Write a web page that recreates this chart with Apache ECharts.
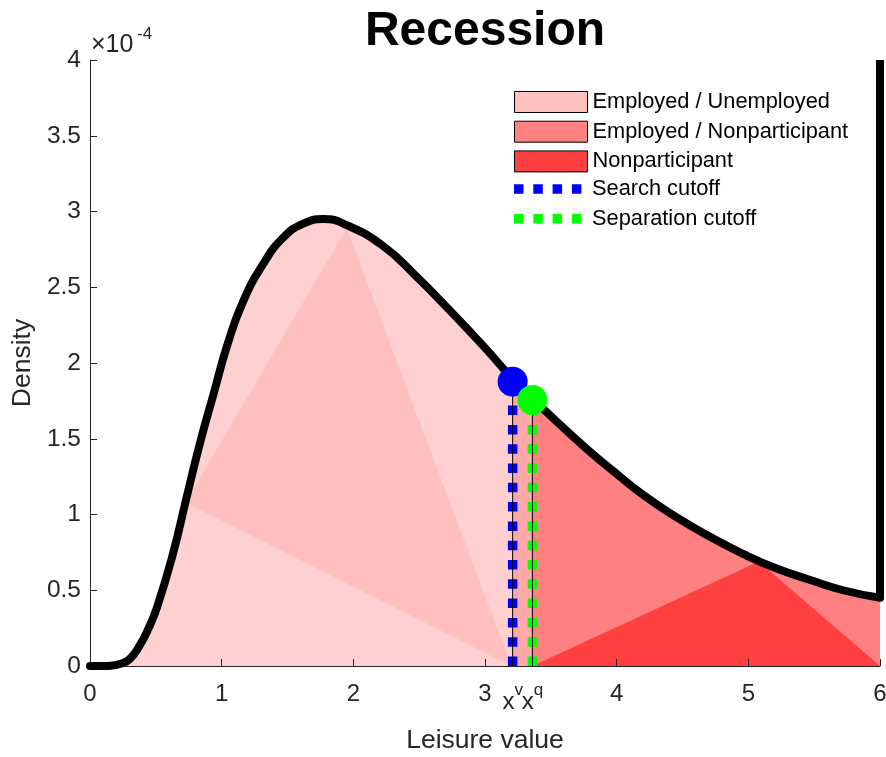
<!DOCTYPE html>
<html><head><meta charset="utf-8">
<script src="https://cdn.jsdelivr.net/npm/echarts@6/dist/echarts.min.js"></script>
<style>html,body{margin:0;padding:0;background:#fff}#c{width:886px;height:757px}</style>
</head><body><div id="c"></div>
<script>
// Density curve (values in units of 1e-4)
const curveX = [0, 0.1, 0.16, 0.22, 0.3, 0.38, 0.44, 0.51, 0.63, 0.73, 0.835, 0.94, 1.04, 1.16, 1.32, 1.47, 1.62, 1.77, 1.95, 2.23, 2.48, 2.73, 2.99, 3.21, 3.36, 3.75, 3.97, 4.20, 4.45, 4.71, 4.96, 5.21, 5.47, 5.72, 6.0];
const curveY = [0, 0, 0.002, 0.012, 0.045, 0.14, 0.24, 0.39, 0.74, 1.10, 1.47, 1.80, 2.11, 2.40, 2.66, 2.83, 2.92, 2.95, 2.91, 2.77, 2.57, 2.35, 2.11, 1.895, 1.765, 1.45, 1.29, 1.13, 0.985, 0.853, 0.74, 0.645, 0.568, 0.50, 0.45];
const rightEdge = [[6, 0.45], [6, 4]];
const searchCutoff = [3.21, 1.877];
const separationCutoff = [3.36, 1.756];
// triangles as x1,y1,x2,y2,x3,y3
const pinkTriangle = [0.725, 1.08, 1.95, 2.89, 3.2, 0];
const nonpartTriangle = [3.36, 0, 5.08, 0.69, 6, 0];
const xTickValues = [0, 1, 2, 3, 4, 5, 6];
const xLabelValues = [0, 1, 2, 3, 3.21, 3.36, 4, 5, 6];
const cutoffNames = [[3.21, 'v'], [3.36, 'q']];
const legendPatches = ['Employed / Unemployed', 'Employed / Nonparticipant', 'Nonparticipant'];
const legendLines = ['Search cutoff', 'Separation cutoff'];

const curve = curveX.map((x, i) => [x, curveY[i]]);
const leftFill = curve.filter(p => p[0] <= searchCutoff[0] + 1e-9);
const rightFill = curve.filter(p => p[0] >= separationCutoff[0] - 1e-9);
const midFill = curve.filter(p => p[0] >= searchCutoff[0] - 1e-9 && p[0] <= separationCutoff[0] + 1e-9);

const FONT = '"Liberation Sans", Arial, Helvetica, sans-serif';
const TXT = '#262626';
const SMOOTH = 0.5;
const squaresPath = 'path://M0,0h9.5v9.5h-9.5z M19.3,0h9.5v9.5h-9.5z M38.6,0h9.5v9.5h-9.5z M57.9,0h9.5v9.5h-9.5z M73,0';

function polyItem(color) {
  return function (params, api) {
    const pts = [];
    for (let i = 0; i < 3; i++) pts.push(api.coord([api.value(2 * i), api.value(2 * i + 1)]));
    return { type: 'polygon', shape: { points: pts }, style: { fill: color } };
  };
}

const chart = echarts.init(document.getElementById('c'), null, { renderer: 'canvas' });
const option = {
  animation: false,
  backgroundColor: '#fff',
  textStyle: { fontFamily: FONT },
  title: {
    text: 'Recession', left: 485, top: 8, padding: 0, textAlign: 'center',
    textStyle: { fontSize: 48, fontWeight: 'bold', color: '#000', fontFamily: FONT }
  },
  graphic: [
    { type: 'text', x: 91, y: 33, silent: true,
      style: { text: '×10', font: '25px ' + FONT, fill: TXT, textAlign: 'left', textVerticalAlign: 'top', align: 'left', verticalAlign: 'top' } },
    { type: 'text', x: 137, y: 26, silent: true,
      style: { text: '-4', font: '17px ' + FONT, fill: TXT, textAlign: 'left', textVerticalAlign: 'top', align: 'left', verticalAlign: 'top' } }
  ],
  grid: { left: 90, right: 6, top: 60, bottom: 91, outerBoundsMode: 'none', containLabel: false },
  legend: [
    {
      orient: 'vertical', left: 514, top: 91, itemWidth: 73, itemHeight: 21, itemGap: 7.7,
      selectedMode: false, padding: 0,
      textStyle: { fontSize: 21.8, color: '#000', fontFamily: FONT, lineHeight: 21 },
      data: [
        { name: legendPatches[0], icon: 'rect', itemStyle: { color: '#FFC0C0', borderColor: '#000', borderWidth: 1 } },
        { name: legendPatches[1], icon: 'rect', itemStyle: { color: '#FF8080', borderColor: '#000', borderWidth: 1 } },
        { name: legendPatches[2], icon: 'rect', itemStyle: { color: '#FF4040', borderColor: '#000', borderWidth: 1 } }
      ]
    },
    {
      orient: 'vertical', left: 514, top: 178, itemWidth: 73, itemHeight: 9.5, itemGap: 7.7,
      selectedMode: false, padding: 0,
      textStyle: { fontSize: 21.8, color: '#000', fontFamily: FONT, lineHeight: 21 },
      data: [
        { name: legendLines[0], icon: squaresPath, itemStyle: { color: '#0000FF', borderWidth: 0 } },
        { name: legendLines[1], icon: squaresPath, itemStyle: { color: '#00FF00', borderWidth: 0 } }
      ]
    }
  ],
  xAxis: {
    type: 'value', min: 0, max: 6, interval: 1, z: 3,
    axisLine: { show: true, onZero: false, lineStyle: { color: TXT, width: 1 } },
    axisTick: { show: true, inside: true, length: 7, lineStyle: { color: TXT }, customValues: xTickValues },
    axisLabel: {
      customValues: xLabelValues, margin: 16, fontSize: 24, lineHeight: 24, color: TXT, fontFamily: FONT,
      formatter: function (v) {
        for (const [k, s] of cutoffNames) if (Math.abs(v - k) < 1e-6) return '{x|x}{s|' + s + '}';
        return String(v);
      },
      rich: {
        x: { fontSize: 24, lineHeight: 40, color: TXT, fontFamily: FONT },
        s: { fontSize: 17, lineHeight: 17, verticalAlign: 'top', color: TXT, fontFamily: FONT }
      }
    },
    splitLine: { show: false },
    name: 'Leisure value', nameLocation: 'middle', nameGap: 59,
    nameTextStyle: { fontSize: 26.5, color: TXT, fontFamily: FONT }
  },
  yAxis: {
    type: 'value', min: 0, max: 4, interval: 0.5, z: 3,
    axisLine: { show: true, lineStyle: { color: TXT, width: 1 } },
    axisTick: { show: true, inside: true, length: 7, lineStyle: { color: TXT } },
    axisLabel: { margin: 9, fontSize: 24.5, color: TXT, fontFamily: FONT },
    splitLine: { show: false },
    name: 'Density', nameLocation: 'middle', nameGap: 52, nameRotate: 90,
    nameTextStyle: { fontSize: 26.5, color: TXT, fontFamily: FONT }
  },
  series: [
    { type: 'line', name: legendPatches[0], data: leftFill, smooth: SMOOTH, showSymbol: false,
      lineStyle: { width: 0, opacity: 0 }, itemStyle: { color: '#FFC0C0' },
      areaStyle: { color: '#FFD0D0', opacity: 1 }, z: 1, silent: true },
    { type: 'line', name: 'midband', data: midFill, showSymbol: false,
      lineStyle: { width: 0, opacity: 0 }, areaStyle: { color: '#FFA8A8', opacity: 1 }, z: 1, silent: true },
    { type: 'line', name: legendPatches[1], data: rightFill, smooth: SMOOTH, showSymbol: false,
      lineStyle: { width: 0, opacity: 0 }, itemStyle: { color: '#FF8080' },
      areaStyle: { color: '#FF8080', opacity: 1 }, z: 1, silent: true },
    { type: 'custom', name: 'shade', data: [pinkTriangle], encode: { x: [0, 2, 4], y: [1, 3, 5] },
      renderItem: polyItem('#FFBFBF'), z: 2, silent: true },
    { type: 'custom', name: legendPatches[2], data: [nonpartTriangle], encode: { x: [0, 2, 4], y: [1, 3, 5] },
      itemStyle: { color: '#FF4040' }, renderItem: polyItem('#FF4040'), z: 2, silent: true },
    { type: 'line', name: legendLines[0], data: [[searchCutoff[0], 0], searchCutoff], showSymbol: false,
      itemStyle: { color: '#0000FF' }, lineStyle: { color: '#0000FF', width: 9.5, type: [9.5, 9.8], cap: 'butt' }, z: 3, silent: true },
    { type: 'line', name: legendLines[1], data: [[separationCutoff[0], 0], separationCutoff], showSymbol: false,
      itemStyle: { color: '#00FF00' }, lineStyle: { color: '#00FF00', width: 9.5, type: [9.5, 9.8], cap: 'butt' }, z: 3, silent: true },
    { type: 'line', name: 'searchThin', data: [[searchCutoff[0], 0], searchCutoff], showSymbol: false,
      lineStyle: { color: '#000', width: 1 }, z: 4, silent: true },
    { type: 'line', name: 'sepThin', data: [[separationCutoff[0], 0], separationCutoff], showSymbol: false,
      lineStyle: { color: '#000', width: 1 }, z: 4, silent: true },
    { type: 'line', name: 'density', data: curve, smooth: SMOOTH, showSymbol: false, clip: false,
      lineStyle: { color: '#000', width: 8, cap: 'round', join: 'round' }, z: 5, silent: true },
    { type: 'line', name: 'edge', data: rightEdge, showSymbol: false, clip: false,
      lineStyle: { color: '#000', width: 8, cap: 'butt' }, z: 5, silent: true },
    { type: 'scatter', name: 'searchDot', data: [searchCutoff], symbolSize: 30,
      itemStyle: { color: '#0000FF', opacity: 1 }, z: 6, silent: true },
    { type: 'scatter', name: 'sepDot', data: [separationCutoff], symbolSize: 30,
      itemStyle: { color: '#00FF00', opacity: 1 }, z: 7, silent: true }
  ]
};
chart.setOption(option);
</script></body></html>
